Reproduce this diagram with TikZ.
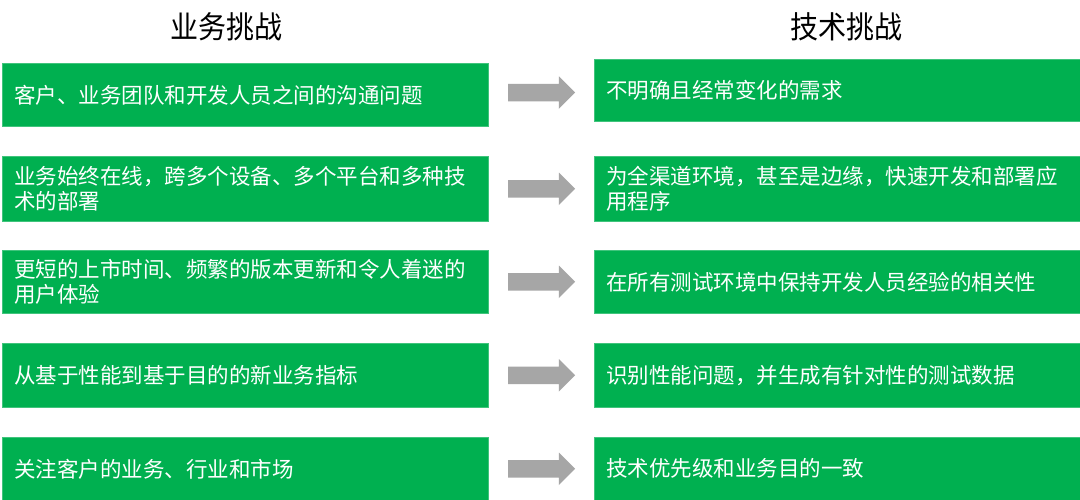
\documentclass[tikz,border=0pt]{standalone}
\usepackage{fontspec}
\setmainfont{Noto Sans CJK SC}
\usetikzlibrary{shapes.arrows,calc}
\definecolor{boxgreen}{HTML}{00B050}
\definecolor{arrowgray}{HTML}{A6A6A6}
\begin{document}
\begin{tikzpicture}[x=1pt,y=-1pt,
  box/.style={fill=boxgreen, draw=boxgreen!75!white, line width=0.6pt,
    anchor=north west, minimum width=486pt, text width=462pt,
    inner xsep=12pt, inner ysep=0pt, align=left, text=white,
    font=\fontsize{21.5}{25.5}\selectfont},
  blockarrow/.style={single arrow, fill=arrowgray, draw=none,
    minimum height=67pt, inner xsep=0pt, inner ysep=8.5pt,
    single arrow head extend=7.5pt, single arrow head indent=0pt},
  title/.style={font=\fontsize{28}{30}\selectfont, text=black, yscale=1.1, transform shape}]
\useasboundingbox[fill=white] (0,0) rectangle (1080,499);

\node[title] (T1) at (226.5,27) {业务挑战};
\node[title] (T2) at (846,27) {技术挑战};

\node[box, minimum height=63pt] (L1) at (2,63) {客户、业务团队和开发人员之间的沟通问题};
\node[box, minimum height=65pt] (L2) at (2,156) {业务始终在线，跨多个设备、多个平台和多种技\\术的部署};
\node[box, minimum height=63pt] (L3) at (2,250) {更短的上市时间、频繁的版本更新和令人着迷的\\用户体验};
\node[box, minimum height=64pt] (L4) at (2,343) {从基于性能到基于目的的新业务指标};
\node[box, minimum height=63pt] (L5) at (2,437) {关注客户的业务、行业和市场};

\node[box, minimum height=62pt] (R1) at (594,59) {不明确且经常变化的需求};
\node[box, minimum height=65pt] (R2) at (594,156) {为全渠道环境，甚至是边缘，快速开发和部署应\\用程序};
\node[box, minimum height=63pt] (R3) at (594,250) {在所有测试环境中保持开发人员经验的相关性};
\node[box, minimum height=64pt] (R4) at (594,343) {识别性能问题，并生成有针对性的测试数据};
\node[box, minimum height=63pt] (R5) at (594,437) {技术优先级和业务目的一致};

\foreach \i in {1,...,5}{
  \node[blockarrow, xshift=-4pt] (A\i) at ($(L\i.east)!0.5!(R\i.west)$) {};
}
\end{tikzpicture}
\end{document}
